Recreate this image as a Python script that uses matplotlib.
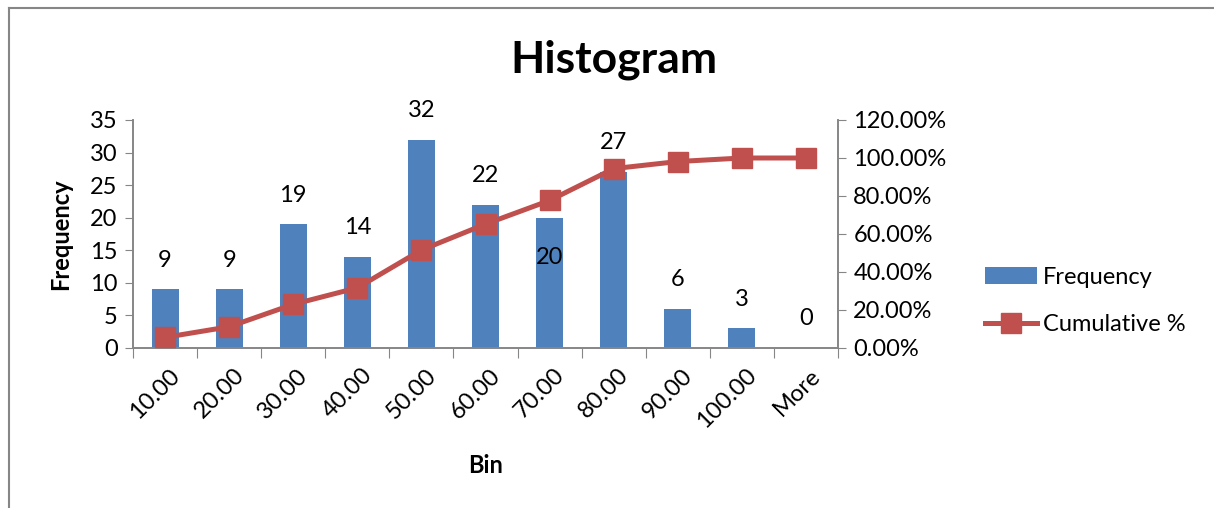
import matplotlib
matplotlib.use("Agg")
import matplotlib.pyplot as plt
from matplotlib.ticker import FuncFormatter, MultipleLocator, FixedLocator
from matplotlib.lines import Line2D
from matplotlib.transforms import ScaledTranslation

plt.rcParams['font.family'] = ['Lato', 'DejaVu Sans']

bins = ["10.00", "20.00", "30.00", "40.00", "50.00", "60.00",
        "70.00", "80.00", "90.00", "100.00", "More"]
frequency = [9, 9, 19, 14, 32, 22, 20, 27, 6, 3, 0]
cumulative_pct = [5.59, 11.18, 22.98, 31.68, 51.55, 65.22,
                  77.64, 94.41, 98.14, 100.00, 100.00]

BAR_BLUE = "#4F81BD"
LINE_RED = "#C0504D"
AXIS_GRAY = "#868686"
FS = 17

fig = plt.figure(figsize=(12.14, 5.08), dpi=100)
ax = fig.add_axes([133 / 1214, 1 - 348 / 508, 705 / 1214, 228 / 508])
ax2 = ax.twinx()

x = list(range(len(bins)))
ax.bar(x, frequency, width=0.42, color=BAR_BLUE, label="Frequency", zorder=2)
ax2.plot(x, [v / 100 for v in cumulative_pct], color=LINE_RED, lw=3.6,
         marker="s", markersize=14, markerfacecolor=LINE_RED,
         markeredgecolor=LINE_RED, label="Cumulative %", zorder=3)

ax.set_xlim(-0.5, len(bins) - 0.5)
ax.set_ylim(0, 35)
ax2.set_ylim(0, 1.2)
ax.yaxis.set_major_locator(MultipleLocator(5))
ax2.yaxis.set_major_locator(MultipleLocator(0.2))
ax2.yaxis.set_major_formatter(FuncFormatter(lambda v, p: f"{v * 100:.2f}%"))

# category boundaries carry the tick marks; labels sit at category centres
ax.xaxis.set_major_locator(FixedLocator([i - 0.5 for i in range(len(bins) + 1)]))
ax.xaxis.set_major_formatter(FuncFormatter(lambda v, p: ""))
ax.xaxis.set_minor_locator(FixedLocator(x))
ax.set_xticklabels(bins, minor=True, rotation=45, ha="right",
                   rotation_mode="anchor", fontsize=FS)
ax.tick_params(axis="x", which="minor", length=0, pad=12)
ax.tick_params(axis="x", which="major", length=7, color=AXIS_GRAY, direction="out")
ax.tick_params(axis="y", length=6, color=AXIS_GRAY, labelsize=FS, pad=5)
ax2.tick_params(axis="y", length=6, color=AXIS_GRAY, labelsize=FS, pad=5)
shift = ScaledTranslation(4 / 100, 0, fig.dpi_scale_trans)
for lbl in ax.get_xticklabels(minor=True):
    lbl.set_transform(lbl.get_transform() + shift)

for a in (ax, ax2):
    a.spines["top"].set_visible(False)
    for side in ("left", "right", "bottom"):
        a.spines[side].set_color(AXIS_GRAY)
        a.spines[side].set_linewidth(1.2)
ax.set_zorder(1)
ax2.set_zorder(2)
ax.patch.set_visible(False)

# value labels above each bar (the 70.00 label sits inside its bar)
label_offsets = {6: -29}
for i, v in enumerate(frequency):
    ax.annotate(str(v), (i, v), xytext=(0, label_offsets.get(i, 21)),
                textcoords="offset points", ha="center", va="center",
                fontsize=FS, zorder=5)

ax.set_ylabel("Frequency", fontsize=FS, fontweight="bold", labelpad=13)
ax.set_xlabel("Bin", fontsize=FS, fontweight="bold", labelpad=16)
fig.text(614 / 1214, 1 - 60 / 508, "Histogram", fontsize=32,
         fontweight="bold", ha="center", va="center")

handles = [ax.containers[0], ax2.get_lines()[0]]
fig.legend(handles, ["Frequency", "Cumulative %"], loc="center left",
           bbox_to_anchor=(964 / 1214, 1 - 301 / 508), frameon=False,
           fontsize=FS, handlelength=2.2, handletextpad=0.25,
           labelspacing=1.1)

# chart area border along the left and top edges
fig.add_artist(Line2D([9 / 1214, 9 / 1214], [0, 1 - 8 / 508],
                      transform=fig.transFigure, color=AXIS_GRAY, lw=1.5))
fig.add_artist(Line2D([9 / 1214, 1], [1 - 8 / 508, 1 - 8 / 508],
                      transform=fig.transFigure, color=AXIS_GRAY, lw=1.5))

fig.savefig("out.png", dpi=100)
